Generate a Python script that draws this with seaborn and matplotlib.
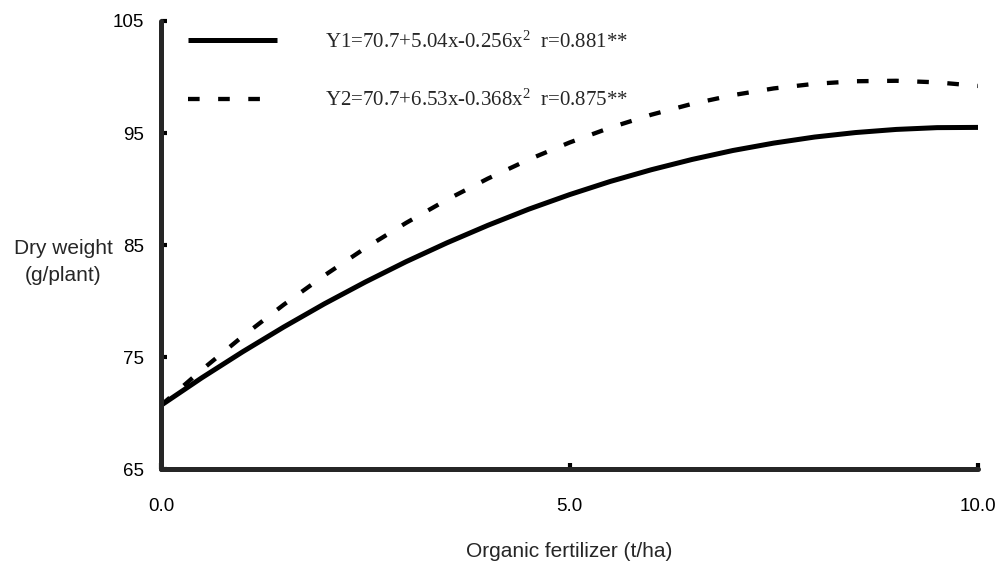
import matplotlib
matplotlib.use("Agg")
import matplotlib.pyplot as plt
import seaborn as sns
import pandas as pd

# =========================================================
# DATA
# =========================================================

fert = [0.0, 0.5, 1.0, 1.5, 2.0, 2.5, 3.0, 3.5, 4.0, 4.5, 5.0,
        5.5, 6.0, 6.5, 7.0, 7.5, 8.0, 8.5, 9.0, 9.5, 10.0]

y1_vals = [70.70, 73.16, 75.48, 77.68, 79.76, 81.70, 83.52, 85.20, 86.76, 88.20, 89.50,
           90.68, 91.72, 92.64, 93.44, 94.10, 94.64, 95.04, 95.32, 95.48, 95.50]

y2_vals = [70.70, 73.87, 76.86, 79.67, 82.29, 84.73, 86.98, 89.05, 90.93, 92.63, 94.15,
           95.48, 96.63, 97.60, 98.38, 98.98, 99.39, 99.62, 99.66, 99.52, 99.20]

labels = [
    r"Y1=70.7+5.04x-0.256x$^{2}$  r=0.881**",
    r"Y2=70.7+6.53x-0.368x$^{2}$  r=0.875**",
]

x_ticks = [0, 5, 10]
x_ticklabels = ["0.0", "5.0", "10.0"]
y_ticks = [65, 75, 85, 95, 105]

# =========================================================
# STYLE
# =========================================================

sns.set_style("ticks")
plt.rcParams.update({
    "font.family": ["Liberation Sans", "DejaVu Sans"],
    "mathtext.fontset": "custom",
    "mathtext.rm": "Liberation Serif",
    "mathtext.it": "Liberation Serif:italic",
    "mathtext.bf": "Liberation Serif:bold",
})

df = pd.DataFrame({"x": fert, "Y1": y1_vals, "Y2": y2_vals})

fig = plt.figure(figsize=(10, 5.66), dpi=100)
ax = fig.add_axes([0.161, 0.171, 0.817, 0.792])

sns.lineplot(data=df, x="x", y="Y1", ax=ax, color="black",
             linewidth=3.6, label=labels[0], solid_capstyle="butt")
sns.lineplot(data=df, x="x", y="Y2", ax=ax, color="black",
             linewidth=3.1, linestyle=(0, (2.7, 4.3)), label=labels[1])

# =========================================================
# AXES
# =========================================================

ax.set_xlim(0, 10)
ax.set_ylim(65, 105)
ax.set_xticks(x_ticks)
ax.set_xticklabels(x_ticklabels)
ax.set_yticks(y_ticks)

for side in ["top", "right"]:
    ax.spines[side].set_visible(False)
for side in ["left", "bottom"]:
    ax.spines[side].set_linewidth(3.6)
    ax.spines[side].set_capstyle("round")

ax.tick_params(axis="both", direction="in", length=4, width=3.0,
               labelsize=13.5, colors="black")
ax.tick_params(axis="x", pad=21)
ax.tick_params(axis="y", pad=12)

ax.set_xlabel("Organic fertilizer (t/ha)", fontsize=15, labelpad=19)
ax.set_ylabel("Dry weight\n(g/plant)", fontsize=15, rotation=0,
              ha="center", va="center", linespacing=1.55)
ax.yaxis.set_label_coords(-0.12, 0.462)

# =========================================================
# LEGEND
# =========================================================

leg = ax.legend(
    loc="upper left",
    bbox_to_anchor=(0.020, 1.0),
    frameon=False,
    borderpad=0,
    handlelength=4.3,
    handletextpad=2.3,
    labelspacing=1.8,
    prop={"family": "Liberation Serif", "size": 15},
)

fig.savefig("out.png", dpi=100)
